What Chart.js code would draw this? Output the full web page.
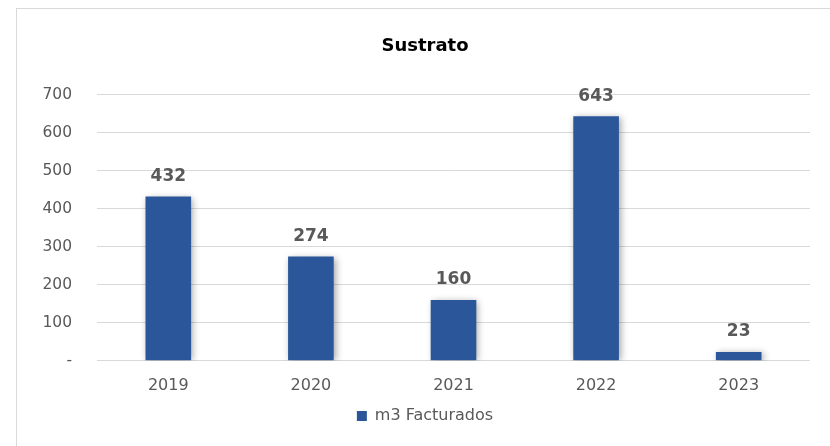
<!DOCTYPE html>
<html><head><meta charset="utf-8">
<script src="https://cdn.jsdelivr.net/npm/chart.js@4"></script>
<style>
html,body{margin:0;padding:0;background:#fff;}
#wrap{position:absolute;left:0;top:0;width:830px;height:446px;}
#frame{position:absolute;left:16px;top:8px;width:830px;height:460px;border:1px solid #d9d9d9;box-sizing:border-box;}
canvas{position:absolute;left:0;top:0;}
</style></head>
<body>
<div id="wrap"><div id="frame"></div><canvas id="c" width="830" height="446"></canvas></div>
<script>
const categories = ['2019','2020','2021','2022','2023'];
const values = [432, 274, 160, 643, 23];
const seriesName = 'm3 Facturados';
const yTicks = [0,100,200,300,400,500,600,700];

const FONT = "'DejaVu Sans', Verdana, sans-serif";
const shadowPlugin = {
  id:'shadow',
  beforeDatasetsDraw(chart){ const c=chart.ctx; c.save(); c.shadowColor='rgba(0,0,0,0.35)'; c.shadowBlur=7; c.shadowOffsetX=2; c.shadowOffsetY=1; },
  afterDatasetsDraw(chart){
    const c=chart.ctx; c.restore();
    const meta=chart.getDatasetMeta(0);
    c.save();
    c.font="bold 17px "+FONT; c.fillStyle='#595959'; c.textAlign='center'; c.textBaseline='middle';
    meta.data.forEach((bar,i)=>{ c.fillText(String(values[i]), bar.x, bar.y-20); });
    c.restore();
  }
};

new Chart(document.getElementById('c'),{
  type:'bar',
  data:{labels:categories,datasets:[{label:seriesName,data:values,backgroundColor:'#2B579A',borderWidth:0,barPercentage:0.32,categoryPercentage:1}]},
  options:{
    responsive:false,animation:false,
    layout:{padding:{left:40,right:20,top:36,bottom:12}},
    plugins:{
      title:{display:true,text:'Sustrato',color:'#000',font:{family:FONT,size:18,weight:'bold'},padding:{top:0,bottom:37}},
      legend:{position:'bottom',labels:{color:'#595959',font:{family:FONT,size:16},boxWidth:10,boxHeight:10,padding:6}},
      tooltip:{enabled:false}
    },
    scales:{
      x:{grid:{display:false},border:{display:false},ticks:{color:'#595959',font:{family:FONT,size:16},padding:7}},
      y:{min:0,max:700,afterFit(s){s.width=57;},
         afterBuildTicks(s){s.ticks=yTicks.map(v=>({value:v}));},
         grid:{color:'#d9d9d9',lineWidth:1,drawTicks:false},border:{display:false},
         ticks:{color:'#595959',font:{family:FONT,size:15.5},padding:25,callback:v=>v===0?'-':v}}
    }
  },
  plugins:[shadowPlugin]
});
</script>
</body></html>
